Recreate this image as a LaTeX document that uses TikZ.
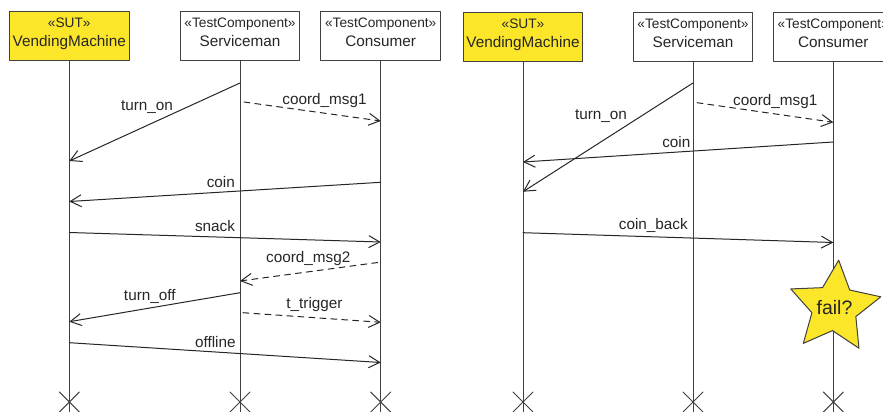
\documentclass[tikz,border=0pt]{standalone}
\usepackage{fontspec}
\setmainfont{Liberation Sans}
\usetikzlibrary{arrows.meta,shapes.geometric}
\definecolor{sutyellow}{RGB}{252,230,42}
\definecolor{linegray}{RGB}{64,64,64}
\definecolor{textgray}{RGB}{38,38,38}
\newcommand{\umlstereo}[1]{{\fontsize{13.7}{18.4}\selectfont «#1»}}
\begin{document}
\begin{tikzpicture}[line join=round, line cap=round, x=1pt, y=-1pt, line width=1pt,
    >={Straight Barb[length=11pt,width=12pt]}]
		\tikzset{every node/.style={font=\fontsize{15.3}{18.4}\selectfont, text=textgray},
			lifebox/.style={draw=linegray, fill=white, minimum width=119.5pt, minimum height=49.5pt, inner sep=0pt, align=center, text depth=7.5pt},
			sutbox/.style={lifebox, fill=sutyellow},
			lifeline/.style={draw=linegray},
			msg/.style={draw=textgray, ->},
			coordmsg/.style={msg, dash pattern=on 6pt off 5pt},
			lbl/.style={anchor=base, inner sep=0pt}}
		\useasboundingbox (0,0) rectangle (883,412);
		% lifeline heads, left scenario
		\node[sutbox] (vmL) at (69.3,35.8) {\umlstereo{SUT}\\VendingMachine};
		\node[lifebox] (svL) at (240,35.8) {\umlstereo{TestComponent}\\Serviceman};
		\node[lifebox] (coL) at (380.7,35.8) {\umlstereo{TestComponent}\\Consumer};
		% lifeline heads, right scenario
		\node[sutbox] (vmR) at (523,37) {\umlstereo{SUT}\\VendingMachine};
		\node[lifebox] (svR) at (693,37) {\umlstereo{TestComponent}\\Serviceman};
		\node[lifebox] (coR) at (833.3,37) {\umlstereo{TestComponent}\\Consumer};
		\foreach \n in {vmL,svL,coL,vmR,svR,coR}{
			\coordinate (\n end) at (\n |- 0,402);
			\draw[lifeline] (\n.south) -- (\n |- 0,412);
			\draw[lifeline] (\n end) +(-10,-10) -- +(10,10) (\n end) +(-10,10) -- +(10,-10);
		}
		% left messages
		\draw[msg] (svL |- 0,83) -- (vmL |- 0,161);
		\draw[coordmsg] ([xshift=4pt]svL |- 0,102) -- (coL |- 0,121);
		\draw[msg] (coL |- 0,182.3) -- (vmL |- 0,201.5);
		\draw[msg] (vmL |- 0,232.5) -- (coL |- 0,242);
		\draw[coordmsg] ([xshift=-3pt]coL |- 0,262.5) -- (svL |- 0,281);
		\draw[msg] (svL |- 0,292.7) -- (vmL |- 0,321.7);
		\draw[coordmsg] ([xshift=3pt]svL |- 0,312.7) -- (coL |- 0,322.3);
		\draw[msg] (vmL |- 0,342.7) -- (coL |- 0,362.5);
		\node[lbl] (turnonL) at (147,110) {turn\_on};
		\node[lbl] (coordaL) at (324.5,104) {coord\_msg1};
		\node[lbl] (coinL) at (220.8,187.3) {coin};
		\node[lbl] (snackL) at (215,231.7) {snack};
		\node[lbl] (coordbL) at (308.2,262.5) {coord\_msg2};
		\node[lbl] (turnoffL) at (149.8,300) {turn\_off};
		\node[lbl] (triggerL) at (314.5,308.3) {t\_trigger};
		\node[lbl] (offlineL) at (215.3,347.7) {offline};
		% right messages
		\draw[msg] (svR |- 0,83) -- (vmR |- 0,191.7);
		\draw[coordmsg] ([xshift=4pt]svR |- 0,102.7) -- (coR |- 0,122.3);
		\draw[msg] (coR |- 0,142) -- (vmR |- 0,162);
		\draw[msg] (vmR |- 0,232.7) -- (coR |- 0,242.5);
		\node[lbl] (turnonR) at (601,119.3) {turn\_on};
		\node[lbl] (coordaR) at (775.3,105) {coord\_msg1};
		\node[lbl] (coinR) at (676.3,147.7) {coin};
		\node[lbl] (coinbackR) at (653.3,229.5) {coin\_back};
		% verdict
		\node[star, star points=5, star point ratio=2.05, minimum size=95pt, inner sep=0pt,
			shape border rotate=-5, draw=linegray, fill=sutyellow] (failstar) at (834.5,307.5) {};
		\node[font=\fontsize{19.5}{23}\selectfont, inner sep=0pt] (fail) at (failstar.center) {fail?};
\end{tikzpicture}
\end{document}
